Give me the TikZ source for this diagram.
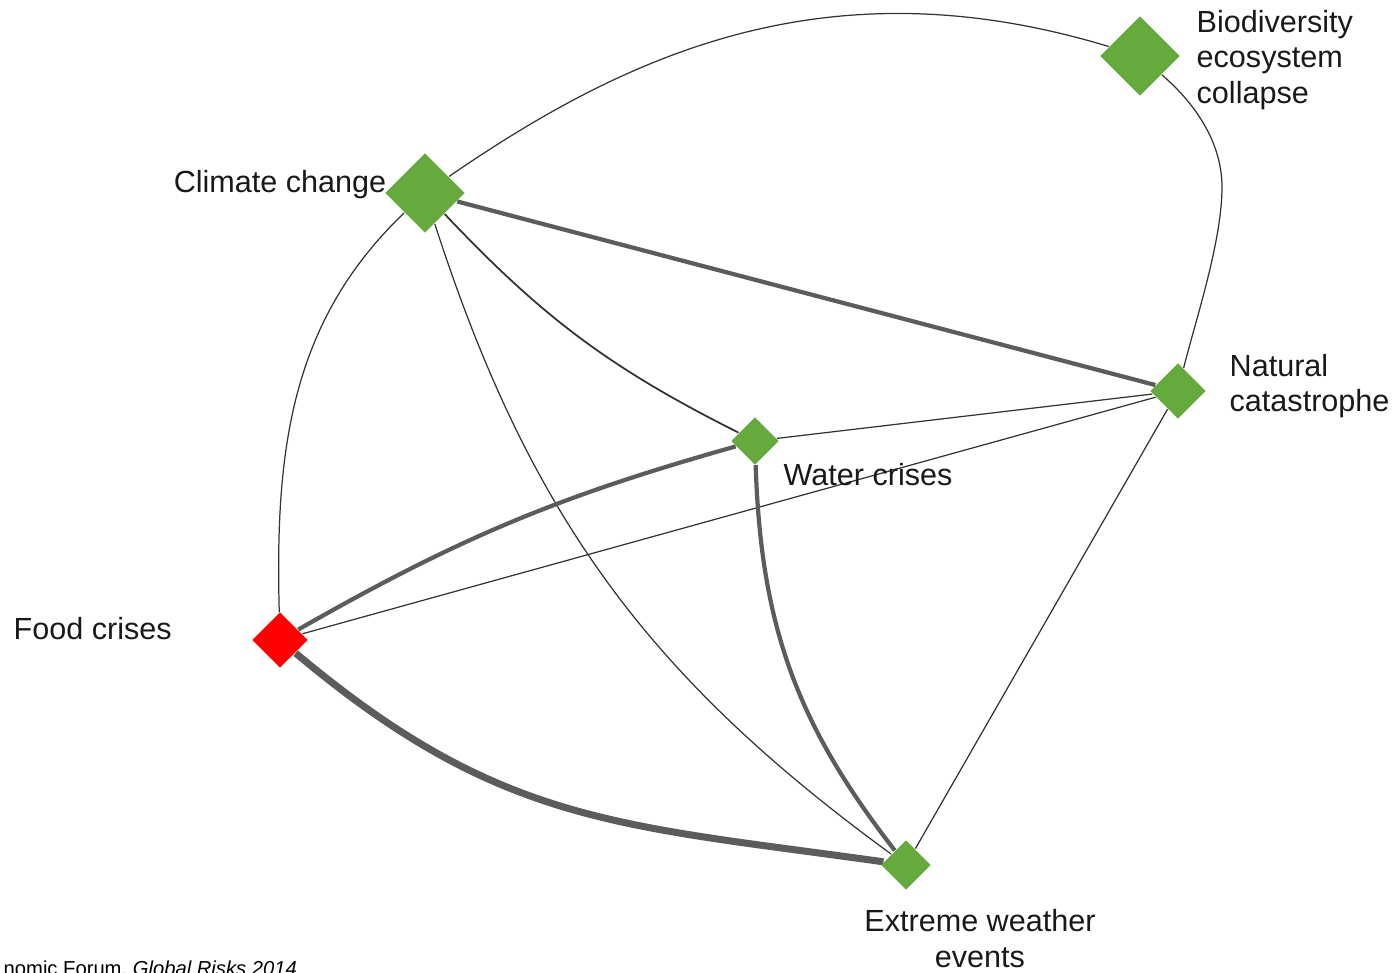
\documentclass[tikz,border=0pt]{standalone}
\usepackage{fontspec}
\setmainfont{Liberation Sans}
\usepackage{xcolor}
\usepackage{tikz}
\usetikzlibrary{shapes.geometric,positioning,calc,backgrounds}

\definecolor{riskgreen}{RGB}{100,170,61}
\definecolor{riskred}{RGB}{255,0,0}
\definecolor{tiegray}{RGB}{92,92,92}

\begin{document}
\begin{tikzpicture}[
    risk/.style={diamond, fill=riskgreen, inner sep=0pt, minimum size=#1},
    lbl/.style={inner sep=0pt, font=\fontsize{8.7}{10}\selectfont, text=black!90},
    tie/.style={draw=black!80, line width=0.35pt},
    midtie/.style={draw=black!80, line width=0.5pt},
    heavytie/.style={draw=tiegray, line width=1.2pt},
    heaviesttie/.style={draw=tiegray, line width=2pt}
]
    \path[use as bounding box] (0,0) rectangle (13.96,9.72);
    \clip (0,0) rectangle (13.96,9.72);

    % Risks
    \node[risk=0.80cm] (bio) at (11.40, 9.16) {};
    \node[risk=0.80cm] (clim) at (4.25, 7.79) {};
    \node[risk=0.48cm] (water) at (7.55, 5.31) {};
    \node[risk=0.56cm] (nat) at (11.78, 5.81) {};
    \node[risk=0.56cm, fill=riskred] (food) at (2.80, 3.32) {};
    \node[risk=0.50cm] (ext) at (9.06, 1.07) {};

    % Labels
    \node[lbl, anchor=west, align=left] (biotxt) at (11.96, 9.12) {Biodiversity\\ecosystem\\collapse};
    \node[lbl, anchor=east] (climtxt) at (3.87, 7.87) {Climate change};
    \node[lbl, anchor=west, align=left] (nattxt) at (12.29, 5.855) {Natural\\catastrophe};
    \node[lbl, anchor=west] (watertxt) at (7.83, 4.97) {Water crises};
    \node[lbl, anchor=west] (foodtxt) at (0.13, 3.43) {Food crises};
    \node[lbl, align=center] (exttxt) at (9.80, 0.335) {Extreme weather\\events};

    % Source line, cut by the page edge
    \node[anchor=base west, inner sep=0pt, font=\fontsize{5.75}{7}\selectfont] (src) at (0.03, -0.035) {nomic Forum, \textit{Global Risks 2014}};

    % Links
    \begin{scope}[on background layer]
        \coordinate (bend) at (12.22, 7.85);
        \draw[tie] (clim) .. controls (6.3,9.2) and (8.3,10.1) .. (bio);
        \draw[tie] (bio) .. controls (12.05,8.6) and (12.22,8.2) .. (bend)
                         .. controls (12.22,7.3) and (11.95,6.5) .. (nat);
        \draw[heavytie] (clim) -- (nat);
        \draw[midtie] (clim) to[bend right=10] (water);
        \draw[tie] (clim) to[bend right=18] (ext);
        \draw[tie] (clim) .. controls (2.9,6.5) and (2.75,5.2) .. (food);
        \draw[tie] (water) -- (nat);
        \draw[tie] (food) -- (nat);
        \draw[heavytie] (food) to[bend left=7] (water);
        \draw[heaviesttie] (food) to[out=-40, in=172, looseness=1.1] (ext);
        \draw[heavytie] (water) to[bend right=18] (ext);
        \draw[tie] (nat) -- (ext);
    \end{scope}
\end{tikzpicture}
\end{document}
